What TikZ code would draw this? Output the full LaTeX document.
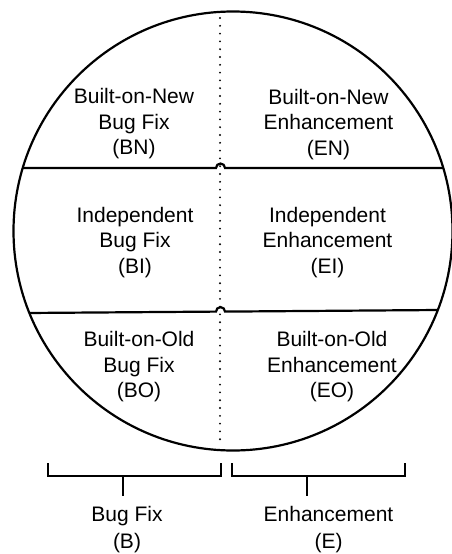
\documentclass[tikz,border=0pt]{standalone}
\usepackage{fontspec}
\setmainfont{Liberation Sans}
\begin{document}
\begin{tikzpicture}[x=1pt,y=-1pt,
  region/.style={align=center, anchor=base, inner sep=0pt,
                 font=\fontsize{21pt}{25.5pt}\selectfont},
  group/.style={align=center, anchor=base, inner sep=0pt,
                 font=\fontsize{21pt}{27pt}\selectfont},
  outline/.style={line width=2.2pt},
  divider/.style={line width=2.2pt},
  axis/.style={line width=2.1pt, line cap=round, dash pattern=on 0pt off 7.8pt},
  brace/.style={line width=2pt}]
\useasboundingbox (0,0) rectangle (452,554);

% the whole set of changes
\coordinate (O) at (233,231);

% vertical split: bug fixes on the left, enhancements on the right
\coordinate (axtop) at (220,18);
\coordinate (axbot) at (220,446);
\draw[axis] (axtop) -- (axbot);

% horizontal splits, hopping over the vertical one
\begin{scope}
  \clip (O) circle[radius=219.5pt];
  \draw[divider] (0,168) -- (216,168)
    arc[start angle=180, end angle=0, radius=4.5pt] -- (452,168);
  \draw[divider] (0,313.2) -- (216,311.6)
    arc[start angle=180, end angle=0, radius=4.5pt] -- (452,309.9);
\end{scope}

\draw[outline] (O) circle[radius=219.5pt];

% six kinds of change (anchored at the baseline of the last line)
\node[region] (BN) at (134,154.5) {Built-on-New\\Bug Fix\\(BN)};
\node[region] (EN) at (328.5,155) {Built-on-New\\Enhancement\\(EN)};
\node[region] (BI) at (135,273) {Independent\\Bug Fix\\(BI)};
\node[region] (EI) at (327.5,273) {Independent\\Enhancement\\(EI)};
\node[region] (BO) at (139,397.5) {Built-on-Old\\Bug Fix\\(BO)};
\node[region] (EO) at (332,397.5) {Built-on-Old\\Enhancement\\(EO)};

% grouping brackets below the circle
\coordinate (bl) at (47.7,463);
\coordinate (br) at (220.7,463);
\coordinate (bm) at (123,476);
\coordinate (el) at (231.7,463);
\coordinate (er) at (405,463);
\coordinate (em) at (306.7,476);

\draw[brace] (bl) -- (bl |- bm) -- (br |- bm) -- (br);
\draw[brace] (bm) -- ++(0,20);
\draw[brace] (el) -- (el |- em) -- (er |- em) -- (er);
\draw[brace] (em) -- ++(0,20);

\node[group] (B) at (127,548) {Bug Fix\\(B)};
\node[group] (E) at (328.5,548) {Enhancement\\(E)};
\end{tikzpicture}
\end{document}
